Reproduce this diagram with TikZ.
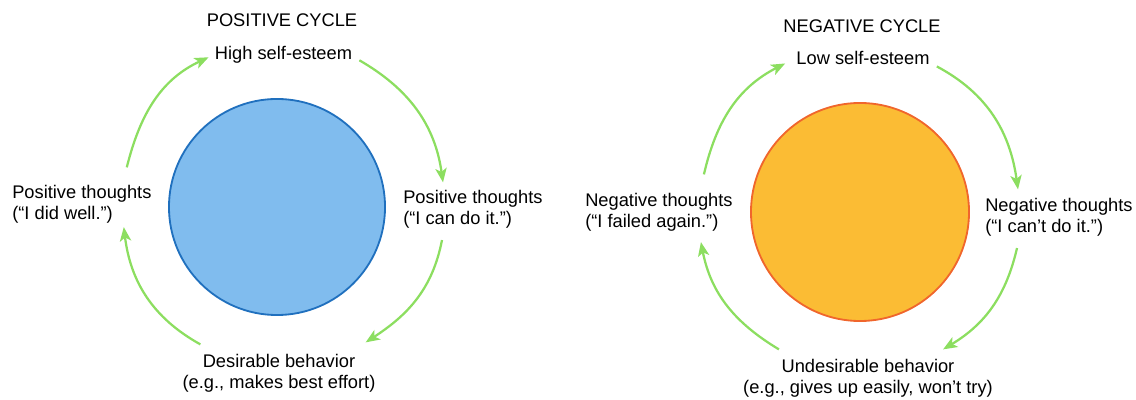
\documentclass[tikz,border=0pt]{standalone}
\usepackage{fontspec}
\setmainfont{Liberation Sans}
\usetikzlibrary{arrows.meta}
\definecolor{cycgreen}{RGB}{140,222,96}
\definecolor{posfill}{RGB}{128,188,238}
\definecolor{posline}{RGB}{32,112,190}
\definecolor{negfill}{RGB}{251,188,52}
\definecolor{negline}{RGB}{240,102,44}

\begin{document}
\begin{tikzpicture}[x=0.025cm, y=0.025cm, font=\fontsize{13}{15}\selectfont,
  txt/.style={inner sep=0pt, align=left, anchor=base west},
  head/.style={inner sep=0pt, anchor=base},
  under/.style={inner sep=0pt, align=center, anchor=base},
  ball/.style={circle, line width=1.3pt, inner sep=0pt},
  roundarrow/.style={draw=cycgreen, line width=1.6pt, -{Stealth[length=10pt,width=8pt,inset=2.5pt]}}]
\useasboundingbox (0,0) rectangle (1136,400);
% positive cycle
\node[ball, fill=posfill, draw=posline, minimum size=5.4cm] (pball) at (277,193) {};
\node[head] (ptitle) at (282,373) {POSITIVE CYCLE};
\node[head] (high) at (283.5,340) {High self-esteem};
\node[txt] (rpos) at (403,175) {Positive thoughts\\(“I can do it.”)};
\node[under] (bpos) at (279,11) {Desirable behavior\\(e.g., makes best effort)};
\node[txt] (lpos) at (12,180) {Positive thoughts\\(“I did well.”)};
\draw[roundarrow] ([shift={(7,-5)}]high.east) to[out=-30,in=98] ([shift={(40,8)}]rpos.north west);
\draw[roundarrow] ([shift={(39,-11)}]rpos.south west) to[out=-101,in=33] ([shift={(-10,12)}]bpos.north east);
\draw[roundarrow] ([shift={(18,10)}]bpos.north west) to[out=151,in=-83] ([shift={(-28,-3)}]lpos.south east);
\draw[roundarrow] ([shift={(-25,18)}]lpos.north east) to[out=76,in=205] ([shift={(-6,-2)}]high.west);
% negative cycle
\node[ball, fill=negfill, draw=negline, minimum size=5.45cm] (nball) at (860,188) {};
\node[head] (ntitle) at (862,367) {NEGATIVE CYCLE};
\node[head] (low) at (863,335) {Low self-esteem};
\node[txt] (rneg) at (985,167) {Negative thoughts\\(“I can’t do it.”)};
\node[under] (bneg) at (868,6) {Undesirable behavior\\(e.g., gives up easily, won’t try)};
\node[txt] (lneg) at (585,172) {Negative thoughts\\(“I failed again.”)};
\draw[roundarrow] ([shift={(7,-8)}]low.east) to[out=-28,in=98] ([shift={(33,9)}]rneg.north west);
\draw[roundarrow] ([shift={(32,-11)}]rneg.south west) to[out=-103,in=31] ([shift={(-50,10)}]bneg.north east);
\draw[roundarrow] ([shift={(36,10)}]bneg.north west) to[out=149,in=-79] ([shift={(-32,-10)}]lneg.south east);
\draw[roundarrow] ([shift={(-29,19)}]lneg.north east) to[out=77,in=207] ([shift={(-11,-5)}]low.west);
\end{tikzpicture}
\end{document}
